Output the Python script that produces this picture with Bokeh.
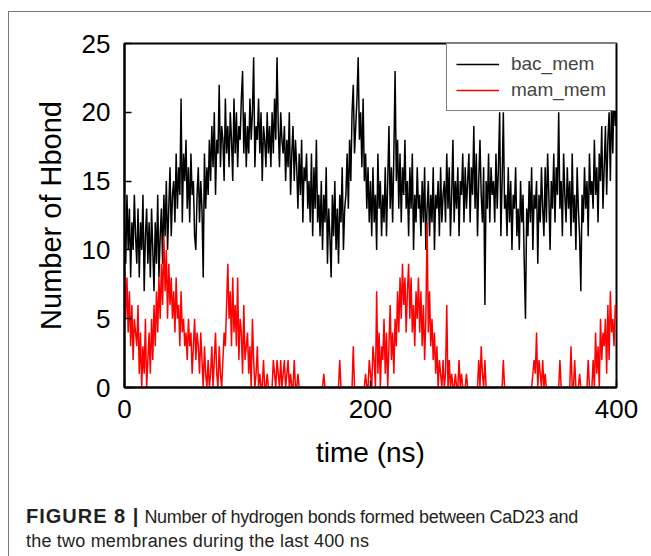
from bokeh.plotting import figure
from bokeh.models import Range1d, FixedTicker, Legend, LegendItem, Div
from bokeh.layouts import column
from bokeh.embed import file_html
from bokeh.resources import INLINE

# time axis sampling (ns), one value per ns
time_ns = list(range(0, 401))

bac_mem = [
    12, 9, 14, 10, 13, 8, 12, 10, 14, 11,
    9, 13, 8, 12, 10, 14, 7, 11, 13, 9,
    12, 8, 13, 10, 7, 12, 9, 14, 8, 11,
    13, 9, 14, 11, 15, 10, 13, 16, 11, 14,
    15, 12, 17, 13, 16, 14, 21, 12, 17, 15,
    18, 13, 16, 12, 17, 14, 15, 11, 10, 14,
    16, 12, 15, 13, 8, 17, 13, 16, 14, 18,
    15, 19, 16, 20, 14, 18, 17, 22, 16, 19,
    18, 15, 21, 17, 19, 16, 20, 18, 15, 21,
    17, 20, 16, 19, 18, 21, 23, 17, 20, 16,
    19, 17, 21, 18, 20, 24, 16, 19, 18, 21,
    17, 20, 15, 19, 18, 16, 20, 17, 19, 16,
    20, 17, 21, 18, 24, 19, 16, 20, 18, 17,
    19, 15, 18, 16, 20, 14, 17, 19, 15, 18,
    16, 13, 17, 14, 18, 12, 16, 15, 17, 13,
    15, 12, 17, 11, 16, 13, 18, 12, 14, 11,
    15, 10, 14, 12, 16, 9, 13, 11, 8, 14,
    11, 15, 10, 13, 9, 14, 12, 16, 10, 13,
    14, 17, 13, 18, 15, 20, 22, 17, 19, 21,
    24, 18, 20, 16, 21, 15, 17, 13, 16, 12,
    15, 11, 16, 12, 14, 10, 17, 13, 15, 11,
    14, 12, 16, 11, 15, 19, 13, 16, 12, 17,
    23, 15, 18, 13, 17, 12, 16, 14, 18, 13,
    15, 11, 16, 13, 17, 10, 14, 12, 16, 13,
    14, 11, 15, 12, 16, 10, 13, 15, 11, 14,
    12, 16, 10, 14, 13, 15, 11, 16, 12, 14,
    15, 12, 17, 13, 16, 11, 14, 18, 12, 15,
    13, 16, 11, 15, 14, 17, 12, 16, 13, 15,
    17, 12, 16, 14, 19, 13, 17, 11, 15, 18,
    14, 12, 16, 6, 15, 13, 17, 12, 16, 14,
    15, 12, 17, 13, 16, 20, 11, 15, 20, 13,
    14, 11, 16, 12, 15, 10, 14, 13, 16, 11,
    13, 10, 15, 12, 14, 9, 5, 13, 11, 15,
    12, 16, 10, 14, 13, 15, 9, 14, 12, 16,
    13, 11, 16, 12, 17, 14, 10, 15, 13, 17,
    12, 16, 14, 20, 13, 15, 11, 17, 14, 12,
    16, 13, 15, 11, 17, 12, 14, 10, 16, 13,
    11, 7, 14, 12, 16, 13, 15, 11, 17, 14,
    15, 13, 18, 14, 16, 12, 17, 15, 19, 13,
    16, 19, 14, 18, 20, 15, 21, 17, 22, 19,
    23,
]

mam_mem = [
    9, 5, 8, 4, 7, 3, 6, 2, 5, 4,
    3, 6, 1, 4, 0, 3, 1, 5, 0, 2,
    4, 1, 5, 2, 6, 3, 7, 4, 8, 5,
    9, 6, 11, 7, 10, 5, 9, 6, 8, 5,
    7, 4, 8, 5, 6, 3, 7, 4, 5, 3,
    4, 2, 5, 3, 4, 1, 3, 5, 2, 4,
    3, 1, 4, 2, 0, 3, 1, 0, 2, 0,
    1, 3, 0, 2, 4, 1, 0, 3, 1, 0,
    2, 4, 3, 6, 9, 5, 7, 3, 8, 4,
    6, 3, 8, 2, 5, 4, 1, 6, 2, 3,
    4, 1, 3, 0, 5, 2, 0, 1, 3, 0,
    1, 0, 0, 2, 0, 0, 1, 0, 0, 0,
    0, 2, 1, 0, 2, 1, 0, 2, 0, 1,
    2, 0, 1, 2, 0, 1, 0, 0, 2, 0,
    0, 1, 0, 0, 0, 0, 0, 0, 0, 0,
    0, 0, 0, 0, 0, 0, 0, 0, 0, 0,
    0, 0, 1, 0, 0, 0, 0, 0, 0, 0,
    0, 0, 0, 0, 0, 2, 0, 0, 0, 0,
    0, 0, 0, 0, 0, 0, 3, 0, 0, 0,
    0, 0, 0, 0, 0, 0, 1, 0, 0, 2,
    1, 0, 3, 2, 0, 7, 1, 4, 0, 3,
    2, 5, 1, 4, 0, 3, 6, 2, 4, 1,
    5, 3, 7, 4, 8, 5, 9, 6, 8, 4,
    7, 9, 5, 8, 4, 6, 3, 7, 5, 8,
    4, 7, 3, 6, 2, 5, 12, 4, 7, 3,
    5, 2, 4, 1, 3, 0, 2, 1, 0, 2,
    0, 1, 6, 0, 2, 0, 1, 0, 0, 1,
    0, 0, 2, 0, 1, 0, 0, 0, 1, 0,
    0, 0, 0, 0, 0, 0, 0, 0, 2, 0,
    3, 1, 0, 2, 0, 0, 0, 0, 0, 0,
    0, 0, 0, 0, 0, 0, 0, 0, 2, 0,
    0, 0, 0, 0, 0, 0, 0, 0, 0, 0,
    0, 0, 0, 0, 0, 0, 0, 0, 0, 0,
    0, 0, 1, 2, 1, 4, 0, 2, 1, 0,
    2, 0, 1, 0, 0, 0, 0, 0, 0, 0,
    0, 0, 0, 0, 2, 0, 0, 0, 0, 0,
    0, 0, 0, 3, 0, 0, 2, 0, 0, 0,
    1, 0, 0, 0, 0, 0, 0, 2, 0, 0,
    0, 2, 0, 4, 1, 3, 0, 5, 2, 4,
    3, 5, 1, 6, 2, 7, 4, 5, 3, 6,
    5,
]

x_ticks = [0, 200, 400]
y_ticks = [0, 5, 10, 15, 20, 25]
series_names = ["bac_mem", "mam_mem"]
series_colors = ["#000000", "#ff0000"]
x_title = "time (ns)"
y_title = "Number of Hbond"
caption_bold = "FIGURE 8 |"
caption_line1 = "Number of hydrogen bonds formed between CaD23 and"
caption_line2 = "the two membranes during the last 400 ns"

FONT = "Liberation Sans"

p = figure(width=634, height=478, output_backend="svg", toolbar_location=None,
           x_range=Range1d(0, 400), y_range=Range1d(0, 25),
           min_border_left=115, min_border_right=27, min_border_top=31,
           min_border_bottom=103)
p.grid.visible = False
p.outline_line_color = "black"
p.outline_line_width = 2

r_bac = p.line(time_ns, bac_mem, line_color=series_colors[0], line_width=1.5)
r_mam = p.line(time_ns, mam_mem, line_color=series_colors[1], line_width=1.5)

for ax, ticks in ((p.xaxis[0], x_ticks), (p.yaxis[0], y_ticks)):
    ax.ticker = FixedTicker(ticks=ticks)
    ax.minor_tick_line_color = None
    ax.major_tick_in = 7
    ax.major_tick_out = 0
    ax.major_tick_line_width = 1.5
    ax.axis_line_width = 2
    ax.major_label_text_font = FONT
    ax.major_label_text_font_size = "26px"
    ax.major_label_text_color = "black"
    ax.axis_label_text_font = FONT
    ax.axis_label_text_font_style = "normal"
    ax.axis_label_text_color = "black"

p.xaxis.axis_label = x_title
p.yaxis.axis_label = y_title
p.xaxis.axis_label_text_font_size = "28px"
p.yaxis.axis_label_text_font_size = "29px"
p.xaxis.major_label_standoff = 12
p.yaxis.major_label_standoff = 14
p.xaxis.axis_label_standoff = 16
p.yaxis.axis_label_standoff = 12

legend = Legend(items=[LegendItem(label=series_names[0], renderers=[r_bac]),
                       LegendItem(label=series_names[1], renderers=[r_mam])],
                location="top_right", margin=0, padding=9, spacing=4,
                glyph_width=43, glyph_height=20, label_standoff=12,
                label_text_font=FONT, label_text_font_size="19px",
                border_line_color="black", border_line_width=1,
                background_fill_alpha=1)
p.add_layout(legend)

caption = Div(
    text=(f'<span style="font-weight:bold;font-size:20px;letter-spacing:1px">'
          f'{caption_bold}</span>&nbsp;'
          f'<span style="letter-spacing:-0.3px">{caption_line1}</span><br>'
          f'<span style="letter-spacing:0.2px">{caption_line2}</span>'),
    width=634, height=64,
    styles={"font-family": FONT, "font-size": "18px", "line-height": "24px",
            "color": "#231f20", "padding-left": "12px", "padding-top": "9px",
            "box-sizing": "border-box"})

layout = column(p, caption, spacing=0,
                styles={"margin-left": "8px", "margin-top": "11px",
                        "border-left": "1px solid #777",
                        "border-top": "1px solid #777",
                        "border-right": "1px solid #777"})

open("out.html", "w").write(file_html(layout, INLINE))
